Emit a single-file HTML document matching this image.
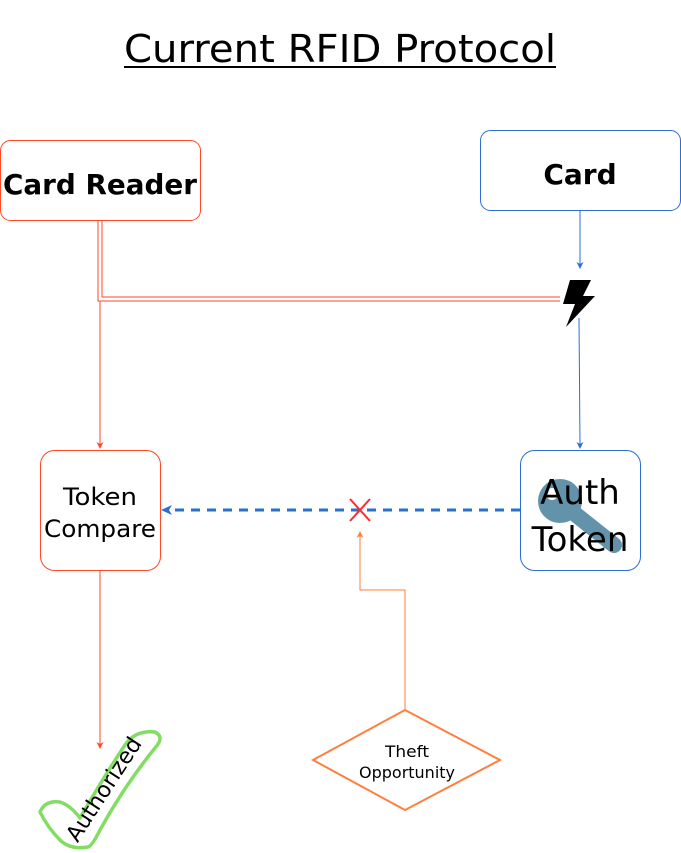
<!DOCTYPE html>
<html><head><meta charset="utf-8"><style>
html,body{margin:0;padding:0;background:#fff;}
svg{display:block;font-family:"Liberation Sans","DejaVu Sans",sans-serif;}
</style></head><body>
<svg width="681" height="853" viewBox="0 0 681 853" xmlns="http://www.w3.org/2000/svg">
<defs>
<marker id="ar" markerWidth="8" markerHeight="8" refX="4" refY="4" orient="auto" markerUnits="userSpaceOnUse"><path d="M0,0.5 L7,4 L0,7.5 L2,4 Z" fill="#ff4a25"/></marker>
<marker id="ab" markerWidth="8" markerHeight="8" refX="4" refY="4" orient="auto" markerUnits="userSpaceOnUse"><path d="M0,0.5 L7,4 L0,7.5 L2,4 Z" fill="#2b6fd1"/></marker>
<marker id="ab2" markerWidth="12" markerHeight="12" refX="6" refY="6" orient="auto" markerUnits="userSpaceOnUse"><path d="M0,1 L11,6 L0,11 L3,6 Z" fill="#2b6fd1"/></marker>
<marker id="ao" markerWidth="8" markerHeight="8" refX="4" refY="4" orient="auto" markerUnits="userSpaceOnUse"><path d="M0,0.5 L7,4 L0,7.5 L2,4 Z" fill="#ff7f3f"/></marker>
</defs>
<text x="124" y="62" font-size="38" font-family="DejaVu Sans, sans-serif" textLength="432" lengthAdjust="spacingAndGlyphs">Current RFID Protocol</text>
<line x1="124" y1="67" x2="556" y2="67" stroke="#000" stroke-width="2"/>

<rect x="0.5" y="140.5" width="200" height="80" rx="10" fill="#fff" stroke="#ff4a25"/>
<text x="100" y="194" text-anchor="middle" font-size="28" font-weight="bold" font-family="DejaVu Sans, sans-serif" textLength="194" lengthAdjust="spacingAndGlyphs">Card Reader</text>
<rect x="480.5" y="130.5" width="200" height="80" rx="10" fill="#fff" stroke="#2b6fd1"/>
<text x="580" y="184" text-anchor="middle" font-size="28" font-weight="bold" font-family="DejaVu Sans, sans-serif">Card</text>

<path d="M98,221 V301 H560" fill="none" stroke="#ff4a25" stroke-width="1"/>
<path d="M102,221 V297 H560" fill="none" stroke="#ff4a25" stroke-width="1"/>
<line x1="100" y1="301" x2="100" y2="446" stroke="#ff4a25" marker-end="url(#ar)"/>

<line x1="580" y1="211" x2="580" y2="266" stroke="#2b6fd1" marker-end="url(#ab)"/>
<path d="M570,280 L591,280 L583,296 L595,296 L566,327 L575,304 L563,304 Z" fill="#000"/>
<line x1="579" y1="318" x2="580" y2="446" stroke="#2b6fd1" marker-end="url(#ab)"/>

<rect x="40.5" y="450.5" width="120" height="120" rx="14" fill="#fff" stroke="#ff4a25"/>
<text x="100" y="505" text-anchor="middle" font-size="24" font-family="DejaVu Sans, sans-serif" textLength="74" lengthAdjust="spacingAndGlyphs">Token</text>
<text x="100" y="537" text-anchor="middle" font-size="24" font-family="DejaVu Sans, sans-serif" textLength="112" lengthAdjust="spacingAndGlyphs">Compare</text>

<rect x="520.5" y="450.5" width="120" height="120" rx="14" fill="#fff" stroke="#2b6fd1"/>
<circle cx="560" cy="501" r="22" fill="#6293aa"/>
<line x1="565" y1="506" x2="614" y2="545" stroke="#6293aa" stroke-width="16" stroke-linecap="round"/>
<circle cx="552" cy="494" r="6" fill="#fff"/>
<text x="580" y="504" text-anchor="middle" font-size="34" font-family="DejaVu Sans, sans-serif">Auth</text>
<text x="580" y="551" text-anchor="middle" font-size="34" font-family="DejaVu Sans, sans-serif">Token</text>

<line x1="520" y1="510" x2="166" y2="510" stroke="#2b6fd1" stroke-width="3" stroke-dasharray="9,7" marker-end="url(#ab2)"/>
<path d="M350,499 L370,521 M370,499 L350,521" stroke="#ff2a2a" stroke-width="2"/>

<path d="M405,710 V590 H360 V534" fill="none" stroke="#ff7f3f" marker-end="url(#ao)"/>
<path d="M405,710 L500,760 L405,810 L313,760 Z" fill="#fff" stroke="#ff7f3f" stroke-width="2"/>
<text x="407" y="757" text-anchor="middle" font-size="16" font-family="DejaVu Sans, sans-serif" textLength="44" lengthAdjust="spacingAndGlyphs">Theft</text>
<text x="407" y="778" text-anchor="middle" font-size="16" font-family="DejaVu Sans, sans-serif" textLength="96" lengthAdjust="spacingAndGlyphs">Opportunity</text>

<line x1="100" y1="571" x2="100" y2="746" stroke="#ff4a25" marker-end="url(#ar)"/>
<path d="M40,812 Q45,800 60,802 Q70,805 80,818 Q105,775 125,745 Q135,730 155,732 Q165,737 155,748 Q125,785 100,830 Q92,846 88,847 Q70,850 60,840 Q48,828 40,812 Z" fill="none" stroke="#82dd63" stroke-width="3.5" stroke-linejoin="round"/>
<text x="0" y="0" transform="translate(105,790) rotate(-57)" text-anchor="middle" font-size="22" font-family="DejaVu Sans, sans-serif" dominant-baseline="middle">Authorized</text>
</svg>
</body></html>
